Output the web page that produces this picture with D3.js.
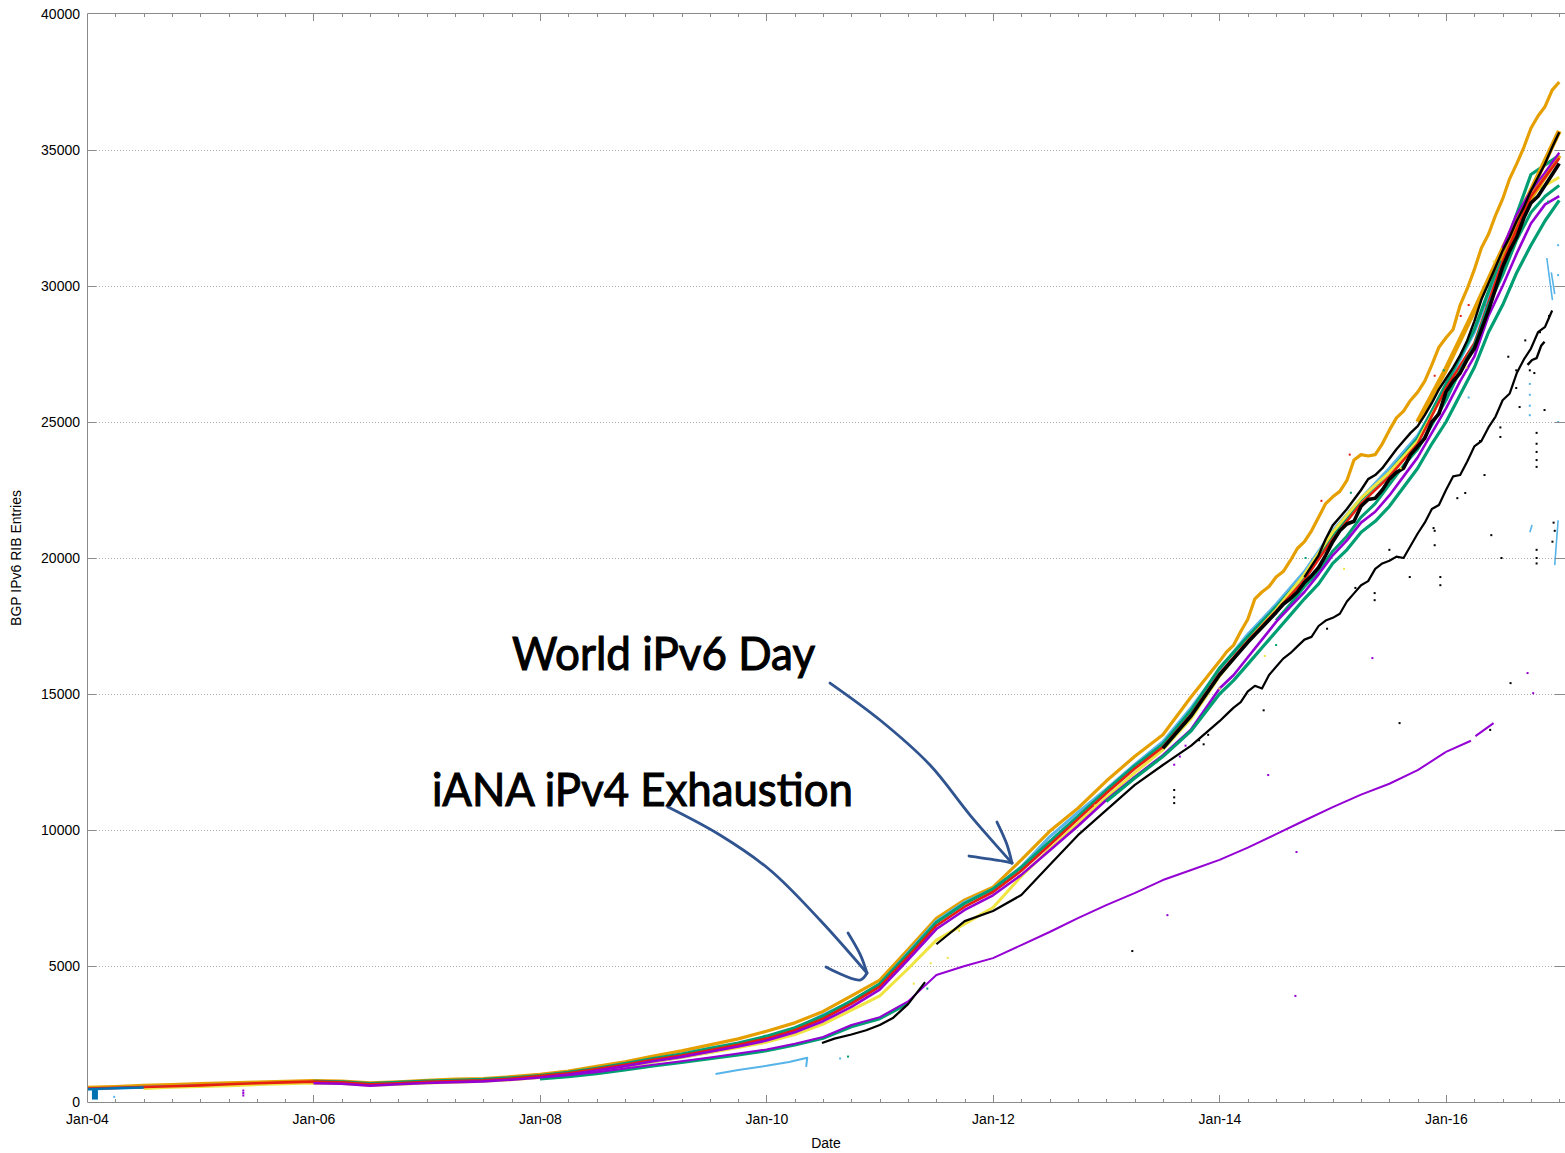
<!DOCTYPE html>
<html><head><meta charset="utf-8">
<script src="https://cdn.jsdelivr.net/npm/d3@7"></script>
<style>
html,body{margin:0;padding:0;background:#fff}
svg{display:block}
text{font-family:"Liberation Sans",Arial,sans-serif;font-size:14px;fill:#000}
.note{font-family:"Lato",sans-serif;font-size:46px;stroke:#000;stroke-width:1.1px}
</style></head><body>
<svg id="c" width="1565" height="1153"></svg>
<script>
// quarterly dates, decimal years
const quarters = d3.range(2004, 2017.01, 0.25);
const xTickYears = [2004,2006,2008,2010,2012,2014,2016];
const xTickLabels = ["Jan-04","Jan-06","Jan-08","Jan-10","Jan-12","Jan-14","Jan-16"];
const yTicks = [0,5000,10000,15000,20000,25000,30000,35000,40000];
const xLabel = "Date", yLabel = "BGP IPv6 RIB Entries";

// quarterly (step .25)
const orangeTop = [540,570,610,640,680,700,730,760,790,770,700,740,800,840,860,930,1020,1140,1310,1480,1690,1880,2100,2320,2600,2910,3330,3900,4480,5600,6750,7430,7900,8900,9950,10800,11800,12700,13500,14900];
// step 1/16 from 2014
const orangeTopFine = [16200,16550,16800,17300,17750,18500,18750,18950,19300,19500,19900,20350,20600,21000,21500,22000,22250,22450,22850,23600,23800,23750,23800,24200,24700,25150,25400,25800,26100,26500,27100,27750,28100,28400,29300,29900,30600,31400,31900,32600,33200,33950,34500,35100,35800,36250,36600,37200,37500];
const skyBand = [480,510,540,570,600,630,660,700,730,700,630,670,720,750,780,840,910,1010,1160,1310,1480,1640,1830,2030,2270,2700,3200,3700,4330,5500,6650,7350,7830,8650,9750,10650,11500,12400,13250,14500,15900,17200,18300,19500,21000,22200,23300,24500,26300,28300,31000,33500];
const greenUpper = [760,740,680,720,770,800,830,890,970,1090,1240,1410,1600,1760,1970,2170,2420,2730,3160,3720,4340,5450,6600,7300,7830,8620,9570,10500,11450,12350,13150,14400,15950,17100,18200,19350,20850,22150,23150,24400,26400,28400,31200,34100,34800];
// step 1/8 from 2014.5
const greenMid = [17700,18300,18950,19500,20250,20800,21500,22000,22700,23400,24000,24900,25800,26900,27800,29300,30400,31700,32700,33300,33700];
const yellowBand = [500,540,570,600,640,670,700,680,620,650,700,730,760,820,900,1000,1140,1300,1480,1640,1820,2000,2200,2480,2860,3380,3900,4900,5950,6550,7150,8300,9300,10250,11200,12100,12950,14100,15650,16950,18100,19400,20950,22200,23150,24300,26200,27800,30800,33400,34000];
const redBand = [490,520,550,580,610,650,690,720,750,720,650,690,740,770,800,860,950,1060,1210,1370,1550,1710,1900,2100,2330,2640,3060,3620,4240,5340,6480,7180,7720,8500,9450,10400,11350,12250,13050,14250,15750,16950,18050,19200,20700,22000,23000,24200,26250,27900,30900,33300,34700];
const purpleBand = [690,670,600,650,700,730,760,820,900,1010,1160,1320,1500,1660,1850,2040,2260,2560,2970,3500,4130,5230,6360,7060,7600,8350,9250,10150,11100,11950,12750,13700];
// step 1/8 from 2014
const purpleBandFine = [15200,15700,16350,17000,17650,18200,18750,19400,20100,20650,21300,21700,22300,23000,23700,24600,25500,26500,27400,28900,30000,31200,32300,33000,33300];
const purpleUpperDates = [2016.5,2016.62,2016.75,2016.87,2017], purpleUpperValues = [31400,32600,33500,34150,34900];
const greenLower = [11050,11900,12700,13650];
// step 1/8 from 2014
const greenLowerFine = [15000,15500,16100,16700,17300,17900,18500,19050,19800,20300,20950,21350,21900,22600,23300,24200,25000,26000,27000,28300,29300,30500,31500,32400,33150];
const blackMid = [13000,14200,15700,16900];
// step 1/16 from 2014.5
const blackMidFine = [18000,18300,18500,18750,19100,19350,19650,20100,20600,21000,21250,21350,21900,22150,22200,22500,22900,23150,23300,23800,24100,24400,25000,25300,26100,26500,26800,27300,27700,28400,29100,29900,30700,31300,31800,32500,33050,33300,33700,34100,34500];
// step 1/16 from 2014.75
const blackTopFine = [19300,19700,20100,20700,21200,21500,21800,22150,22500,22900,23050,23300,23650,24000,24300,24600,24850,25250,25700,26200,26600,27000,27450,28000,28700,29500,30100,30700,31300,31800,32400,32900,33500,34000,34500,35100,35650];
const orangeUpper = [25000,26950,29100,31350,33500,35700];
const orangeMid = [30900,33250,34800];
const blueStart = [470,510,535];
const blackLow = [5800,6650,7020,7610,8710,9810,10730,11650,12390,13100];
// step 1/16 from 2014
const blackLowFine = [14000,14250,14500,14700,15100,15300,15200,15700,16000,16300,16500,16750,17000,17100,17500,17700,17800,17950,18400,18700,19000,19150,19600,19800,19900,20050,20000,20450,20900,21300,21800,21950,22500,23000,23050,23550,24100,24300,24800,25200,25800,26050,26800,27300,27700,28300,28500,29100];
const purpleLow = [900,980,1090,1230,1370,1500,1640,1780,1930,2140,2390,2830,3120,3700,4670,5000,5290,5770,6250,6760,7240,7680,8160,8530,8900,9350,9850,10350,10840,11300,11700,12200,12870];
const greenLow = [850,930,1040,1180,1320,1450,1590,1730,1880,2090,2340,2760,3060,3620];

// short segments with their own dates
const purpleTail1Dates = [2016,2016.22], purpleTail1Values = [12870,13280];
const purpleTail2Dates = [2016.26,2016.42], purpleTail2Values = [13450,13930];
const blackEarlyDates = [2010.49,2010.6,2010.75,2010.88,2011,2011.12,2011.25,2011.4], blackEarlyValues = [2170,2330,2480,2640,2830,3100,3600,4410];
const blackSideDates = [2016.72,2016.76,2016.8,2016.84,2016.87], blackSideValues = [27100,27280,27350,27800,27950];
const skyLowDates = [2009.55,2009.75,2010,2010.2,2010.36,2010.35], skyLowValues = [1030,1180,1330,1470,1630,1290];
const skyFrag1Dates = [2016.76,2016.74], skyFrag1Values = [21210,20950];
const skyFrag2Dates = [2016.99,2016.96], skyFrag2Values = [21390,19740];
const skyFrag3Dates = [2016.89,2016.94], skyFrag3Values = [31030,29480];
const skyFrag4Dates = [2016.93,2016.96], skyFrag4Values = [30500,29700];
const blobDates = [2004.07,2004.07], blobValues = [90,440];

// stray single samples
const strayBlackYears = [2016.80,2016.80,2016.80,2016.80,2016.80,2016.80,2016.80,2016.80,2015.89,2015.90,2016.40,2016.34,2016.48,2016.48,2016.87,2016.65,2016.62,2016.17,2015.68,2015.37,2015.37,2013.6,2013.6,2013.6,2013.82,2013.86,2013.9,2014.39,2013.23,2015.59,2016.57,2016.39,2016.49,2015.95,2015.95,2016.95,2016.96,2016.94,2016.74,2016.7,2016.78,2016.83,2016.91,2016.62,2016.55,2016.3,2016.1,2015.9,2015.5,2015.2,2014.95];
const strayBlackValues = [24600,24200,23900,23600,23350,20300,20000,19800,21100,20470,20840,23050,24800,24450,25440,25550,26250,22390,19300,18710,18450,11470,11200,10990,13300,13150,13500,14400,5550,13930,15400,13680,20000,19300,19000,21300,21000,20600,26900,28000,26800,28300,28900,26900,27400,24300,22200,21000,20300,18900,17400];
const strayPurpleYears = [2014.43,2014.67,2013.54,2015.35,2016.72,2016.77,2014.68,2005.38,2005.38,2005.38,2013.6,2013.7,2013.65];
const strayPurpleValues = [12020,3900,6870,16320,15770,15030,9190,240,330,420,12400,13100,12700];
const straySkyYears = [2016.74,2016.74,2016.74,2016.74,2004.24,2016.99,2016.99,2016.99,2010.65,2016.2];
const straySkyValues = [26400,26000,25600,25250,190,31500,30400,25000,1600,25900];
const strayYellowYears = [2016.42,2016.18,2015.6,2015.1,2012.9,2011.6,2011.3,2011.45,2011.7,2014.0,2014.4];
const strayYellowValues = [30900,27000,23300,19600,10900,5300,4350,5100,6300,15200,16400];
const strayGreenYears = [2016.7,2016.9,2016.34,2015.98,2015.16,2014.76,2011.42,2010.72,2014.5];
const strayGreenValues = [32300,33100,29300,26900,22400,20000,4170,1670,16800];
const strayRedYears = [2016.2,2015.9,2015.15,2014.9,2016.13];
const strayRedValues = [29300,26700,23800,22100,28900];

// hand annotation (decimal year, value)
const noteTexts = ["World iPv6 Day","iANA iPv4 Exhaustion"];
const noteYears = [2007.753,2007.046];
const noteValues = [15900,10880];
const noteWidths = [2.676,3.717];
const arrow1Years = [2010.561,2011.002,2011.444,2011.797,2012.168], arrow1Values = [15402,14043,12388,10550,8786];
const arrow1aYears = [2012.035,2012.12,2012.168], arrow1aValues = [10293,9500,8786];
const arrow1bYears = [2011.788,2012.088,2012.168], arrow1bValues = [9043,8859,8786];
const arrow2Years = [2009.130,2009.589,2010.031,2010.472,2010.887], arrow2Values = [10844,9815,8528,6690,4742];
const arrow2aYears = [2010.720,2010.83,2010.887], arrow2aValues = [6212,5400,4742];
const arrow2bYears = [2010.525,2010.826,2010.887], arrow2bValues = [4963,4485,4742];

const C = {orange:"#e69f00",sky:"#56b4e9",green:"#009e73",yellow:"#f0e442",red:"#e51e10",purple:"#9400d3",black:"#000",blue:"#0072b2"};

const svg = d3.select("#c");
const m = {l:87,r:1565,t:14,b:1102};
const x = d3.scaleLinear().domain([2004,2004+(m.r-m.l)/113.25]).range([m.l,m.r]);
const y = d3.scaleLinear().domain([0,40000]).range([m.b,m.t]);
const grey = "#8a8a8a";

// grid
svg.append("g").selectAll("line").data(yTicks.slice(1,-1)).join("line")
  .attr("x1",m.l).attr("x2",m.r).attr("y1",d=>y(d)+.5).attr("y2",d=>y(d)+.5)
  .attr("stroke","#ababab").attr("stroke-dasharray","1,2");

// series
const step = (start,dt,vals)=>vals.map((v,i)=>[start+i*dt,v]);
const zip = (a,b)=>a.map((d,i)=>[d,b[i]]);
const line = d3.line().x(d=>x(d[0])).y(d=>y(d[1]));
const series = [
  [step(2004,.25,orangeTop).concat(step(2014,.0625,orangeTopFine)),C.orange,3.2],
  [step(2004,.25,skyBand),C.sky,3],
  [step(2006,.25,greenUpper),C.green,3.2],
  [step(2004.5,.25,yellowBand),C.yellow,3],
  [step(2015.75,.25,orangeUpper),C.orange,5],
  [step(2016.5,.25,orangeMid),C.orange,5],
  [step(2004,.25,redBand),C.red,2.6],
  [step(2014.5,.125,greenMid),C.green,3],
  [step(2006,.25,purpleBand).concat(step(2014,.125,purpleBandFine)),C.purple,2.6],
  [zip(purpleUpperDates,purpleUpperValues),C.purple,2.4],
  [step(2013,.25,greenLower).concat(step(2014,.125,greenLowerFine)),C.green,3.2],
  [step(2004,.25,blueStart),C.blue,2.4],
  [step(2008,.25,greenLow),C.green,3],
  [step(2008,.25,purpleLow),C.purple,2],
  [zip(purpleTail1Dates,purpleTail1Values),C.purple,2],
  [zip(purpleTail2Dates,purpleTail2Values),C.purple,2],
  [step(2011.5,.25,blackLow).concat(step(2014,.0625,blackLowFine)),C.black,2.2],
  [zip(blackEarlyDates,blackEarlyValues),C.black,2.2],
  [zip(blackSideDates,blackSideValues),C.black,2.4],
  [step(2014.75,.0625,blackTopFine),C.black,2.4],
  [step(2013.5,.25,blackMid).concat(step(2014.5,.0625,blackMidFine)),C.black,3.6],
  [zip(skyLowDates,skyLowValues),C.sky,2],
  [zip(skyFrag1Dates,skyFrag1Values),C.sky,1.6],
  [zip(skyFrag2Dates,skyFrag2Values),C.sky,1.6],
  [zip(skyFrag3Dates,skyFrag3Values),C.sky,1.6],
  [zip(skyFrag4Dates,skyFrag4Values),C.sky,1.6],
  [zip(blobDates,blobValues),C.blue,6]
];
svg.append("g").attr("fill","none").attr("stroke-linejoin","round").selectAll("path").data(series).join("path")
  .attr("d",d=>line(d[0])).attr("stroke",d=>d[1]).attr("stroke-width",d=>d[2]);

const dots = (xs,ys,col)=>svg.append("g").selectAll("rect").data(zip(xs,ys)).join("rect")
  .attr("x",d=>x(d[0])-1).attr("y",d=>y(d[1])-1).attr("width",2).attr("height",2).attr("fill",col);
dots(strayBlackYears,strayBlackValues,C.black);
dots(strayPurpleYears,strayPurpleValues,C.purple);
dots(straySkyYears,straySkyValues,C.sky);
dots(strayYellowYears,strayYellowValues,C.yellow);
dots(strayGreenYears,strayGreenValues,C.green);
dots(strayRedYears,strayRedValues,C.red);

// frame (open on the right, the page clips it) and ticks
const frame = d3.path();
frame.moveTo(m.r,m.t-.5); frame.lineTo(m.l+.5,m.t-.5); frame.lineTo(m.l+.5,m.b+.5); frame.lineTo(m.r,m.b+.5);
svg.append("path").attr("d",frame.toString()).attr("fill","none").attr("stroke",grey);
const yA = d3.axisLeft(y).tickValues(yTicks).tickSize(0).tickPadding(7).tickFormat(d=>d);
const gy = svg.append("g").attr("transform",`translate(${m.l},0)`).call(yA);
gy.select(".domain").remove();
svg.append("g").selectAll("line").data(yTicks.slice(1,-1)).join("line")
  .attr("x1",m.r-10).attr("x2",m.r).attr("y1",d=>y(d)+.5).attr("y2",d=>y(d)+.5).attr("stroke",grey);
svg.append("g").selectAll("line").data(yTicks.slice(1,-1)).join("line")
  .attr("x1",m.l).attr("x2",m.l+9).attr("y1",d=>y(d)+.5).attr("y2",d=>y(d)+.5).attr("stroke",grey);
const xA = d3.axisBottom(x).tickValues(xTickYears).tickSize(0).tickPadding(12).tickFormat((d,i)=>xTickLabels[i]);
const gx = svg.append("g").attr("transform",`translate(0,${m.b})`).call(xA);
gx.select(".domain").remove();
const tickLen = d=>(d%2===0?7:3);
svg.append("g").selectAll("line").data(quarters).join("line")
  .attr("x1",d=>Math.round(x(d))+.5).attr("x2",d=>Math.round(x(d))+.5)
  .attr("y1",m.b).attr("y2",d=>m.b-tickLen(d)).attr("stroke",grey);
svg.append("g").selectAll("line").data(quarters).join("line")
  .attr("x1",d=>Math.round(x(d))+.5).attr("x2",d=>Math.round(x(d))+.5)
  .attr("y1",m.t).attr("y2",d=>m.t+tickLen(d)).attr("stroke",grey);
svg.selectAll(".tick text").style("font-size","14px").style("font-family",'"Liberation Sans"');

svg.append("text").attr("x",826).attr("y",1148).attr("text-anchor","middle").text(xLabel);
svg.append("text").attr("transform","translate(21,558) rotate(-90)").attr("text-anchor","middle").text(yLabel);

// annotations
const ink = "#2f5490";
const ln = d3.line().x(d=>x(d[0])).y(d=>y(d[1])).curve(d3.curveCatmullRom);
[[arrow1Years,arrow1Values],[arrow1aYears,arrow1aValues],[arrow1bYears,arrow1bValues],
 [arrow2Years,arrow2Values],[arrow2aYears,arrow2aValues],[arrow2bYears,arrow2bValues]].forEach(a=>{
  svg.append("path").attr("d",ln(zip(a[0],a[1]))).attr("fill","none").attr("stroke",ink)
    .attr("stroke-width",2.8).attr("stroke-linecap","round").attr("stroke-linejoin","round");
});
noteTexts.forEach((t,i)=>{
  svg.append("text").attr("class","note").attr("x",x(noteYears[i])).attr("y",y(noteValues[i]))
    .attr("textLength",x(noteYears[i]+noteWidths[i])-x(noteYears[i])).attr("lengthAdjust","spacingAndGlyphs").text(t);
});
</script>
</body></html>
